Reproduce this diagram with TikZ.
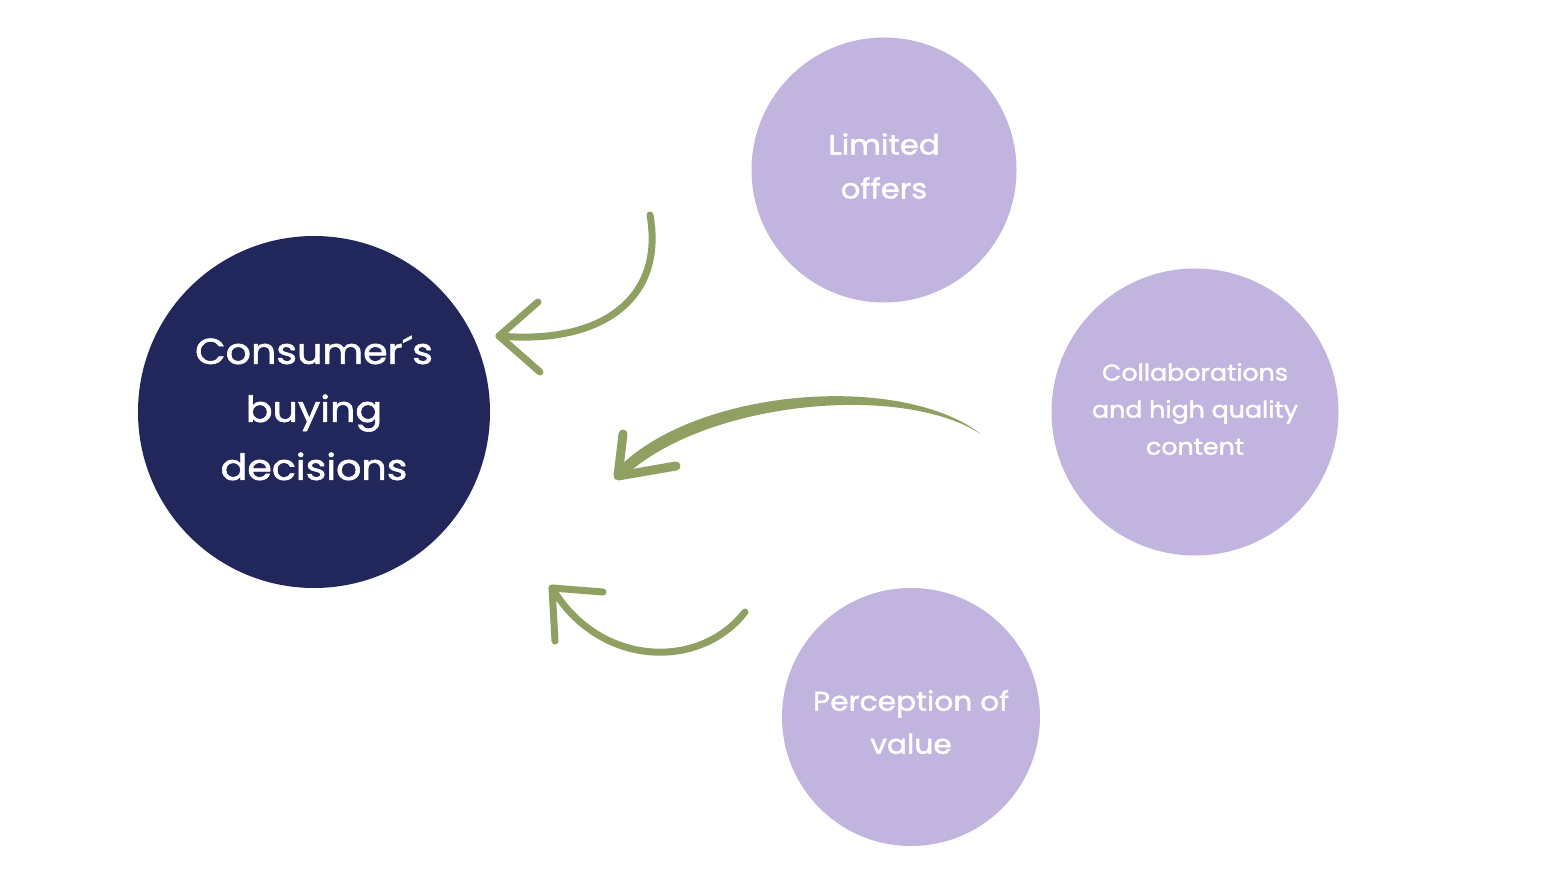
\documentclass[tikz,border=0pt]{standalone}
\usepackage{fontspec}
\setmainfont{Poppins}[FakeBold=1.6,FakeStretch=1.1]
\definecolor{navy}{HTML}{21265B}
\definecolor{lav}{HTML}{C1B5DF}
\definecolor{leaf}{HTML}{8FA062}
\begin{document}
\begin{tikzpicture}[x=1pt,y=-1pt,
  bigcirc/.style={circle,fill=navy,inner sep=0pt,text=white,align=center},
  smallcirc/.style={circle,fill=lav,inner sep=0pt,text=white,align=center},
  arrowline/.style={draw=leaf,line width=7pt,line cap=round,line join=round},
  label/.style={text=white,align=center,inner sep=0pt}]
\useasboundingbox[fill=white] (0,0) rectangle (1568,882);
% circles
\node[bigcirc,minimum size=352pt] (cons) at (314,412) {};
\node[smallcirc,minimum size=265pt] (lim) at (884,170) {};
\node[smallcirc,minimum size=287pt] (col) at (1195,412) {};
\node[smallcirc,minimum size=258pt] (per) at (911,717) {};
% labels
\node[label,font=\fontsize{36}{58}\selectfont] (consT) at (314,408) {Consumer´s\\buying\\decisions};
\node[label,font=\fontsize{28}{44}\selectfont] (limT) at (884,166) {Limited\\offers};
\node[label,font=\fontsize{23}{37}\selectfont] (colT) at (1195,409) {Collaborations\\and high quality\\content};
\node[label,font=\fontsize{27}{43}\selectfont] (perT) at (911,722) {Perception of\\value};
% arrow 1
\coordinate (a1s) at (650,215);
\coordinate (a1t) at (499,336);
\coordinate (a1u) at (538,302);
\coordinate (a1d) at (540,372);
\draw[arrowline] (a1s) .. controls (665,300) and (600,345) .. (a1t);
\draw[arrowline] (a1u) -- (a1t) -- (a1d);
% arrow 2 (tapered)
\coordinate (a2s) at (981,434);
\coordinate (a2t) at (618,476);
\coordinate (a2u) at (623,434);
\coordinate (a2d) at (676,466);
\fill[leaf] (a2s) .. controls (900,372) and (696,388) .. (617,469) -- (625,476) .. controls (704,402) and (900,382) .. (a2s) -- cycle;
\draw[arrowline,line width=9pt] (a2u) -- (a2t) -- (a2d);
% arrow 3
\coordinate (a3s) at (745,612);
\coordinate (a3t) at (552,588);
\coordinate (a3u) at (603,592);
\coordinate (a3d) at (555,641);
\draw[arrowline] (a3s) .. controls (700,670) and (600,668) .. (a3t);
\draw[arrowline] (a3u) -- (a3t) -- (a3d);
\end{tikzpicture}
\end{document}
